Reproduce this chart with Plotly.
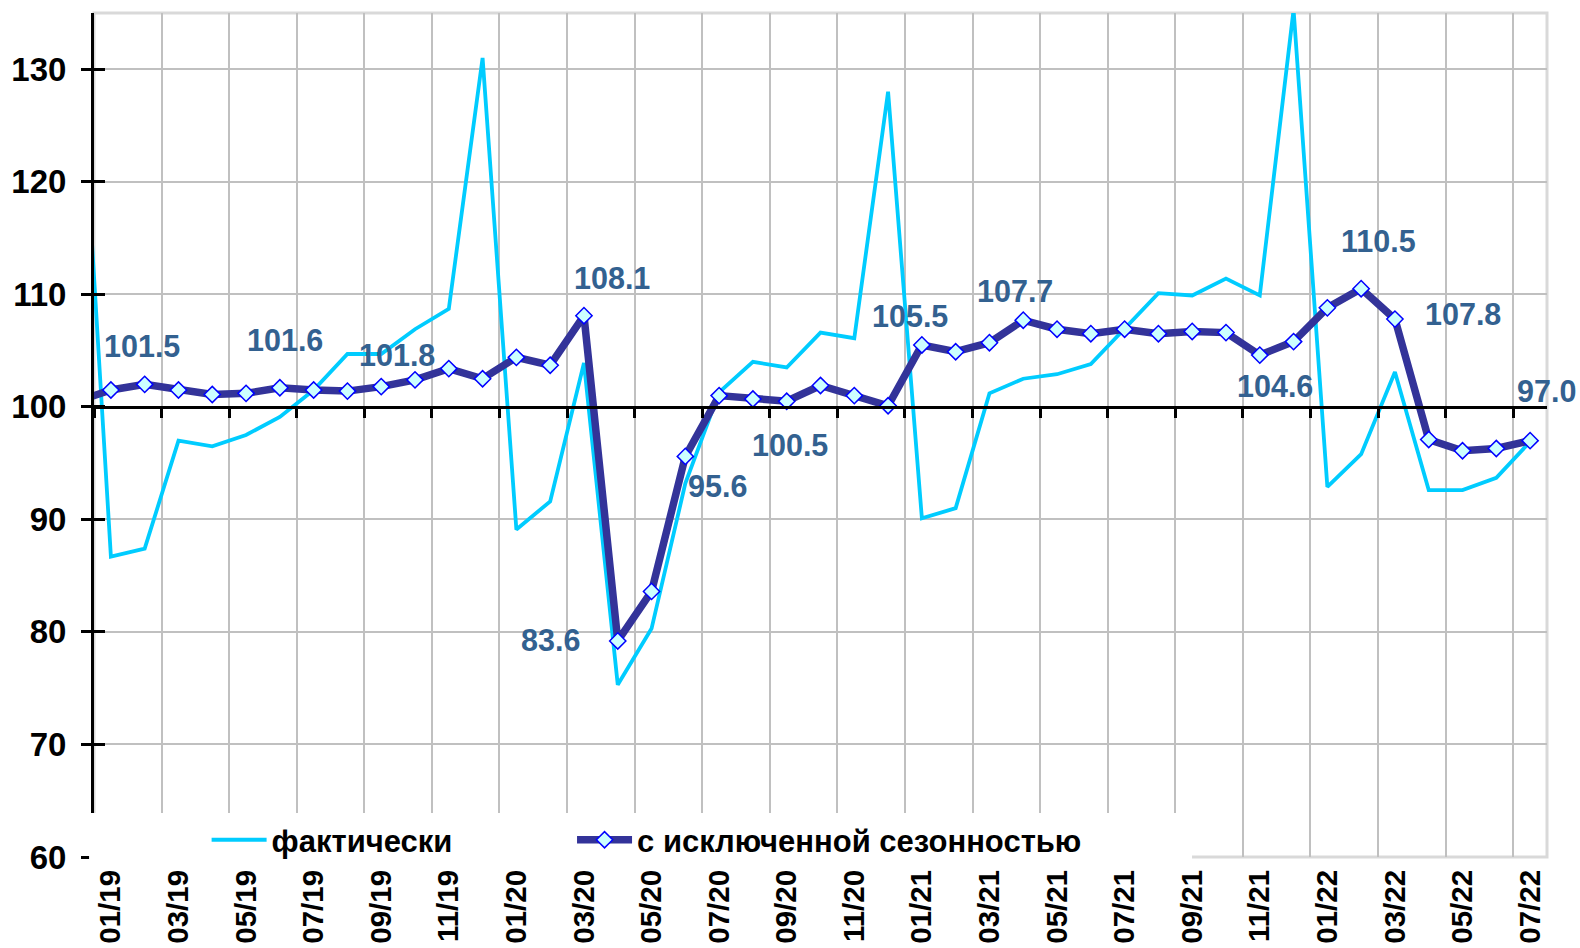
import plotly.graph_objects as go

# ---------------- DATA ----------------
months = ["12/18",
          "01/19", "02/19", "03/19", "04/19", "05/19", "06/19", "07/19", "08/19", "09/19", "10/19", "11/19", "12/19",
          "01/20", "02/20", "03/20", "04/20", "05/20", "06/20", "07/20", "08/20", "09/20", "10/20", "11/20", "12/20",
          "01/21", "02/21", "03/21", "04/21", "05/21", "06/21", "07/21", "08/21", "09/21", "10/21", "11/21", "12/21",
          "01/22", "02/22", "03/22", "04/22", "05/22", "06/22", "07/22"]

actual = [136.5,
          86.7, 87.4, 97.0, 96.5, 97.5, 99.1, 101.5, 104.7, 104.7, 106.9, 108.7, 131.0,
          89.1, 91.6, 103.9, 75.3, 80.3, 93.2, 101.3, 104.0, 103.5, 106.6, 106.1, 128.0,
          90.1, 91.0, 101.2, 102.5, 102.9, 103.8, 106.9, 110.1, 109.9, 111.4, 109.9, 135.3,
          92.9, 95.8, 103.1, 92.6, 92.6, 93.7, 96.9]

seas_adj = [100.5,
            101.5, 102.0, 101.5, 101.1, 101.2, 101.7, 101.5, 101.4, 101.8, 102.4, 103.4, 102.5,
            104.4, 103.7, 108.1, 79.2, 83.6, 95.6, 101.0, 100.7, 100.5, 101.9, 101.0, 100.1,
            105.5, 104.9, 105.7, 107.7, 106.9, 106.5, 106.9, 106.5, 106.7, 106.6, 104.6, 105.8,
            108.8, 110.5, 107.8, 97.1, 96.1, 96.3, 97.0]

label_months = ["01/19", "06/19", "09/19", "03/20", "05/20", "06/20", "09/20",
                "01/21", "04/21", "11/21", "02/22", "03/22", "07/22"]
label_texts = ["101.5", "101.6", "101.8", "108.1", "83.6", "95.6", "100.5",
               "105.5", "107.7", "104.6", "110.5", "107.8", "97.0"]

series_names = ["фактически", "с исключенной сезонностью"]
y_ticks = [60, 70, 80, 90, 100, 110, 120, 130]

# ---------------- STYLE ----------------
label_offsets = [(31, 44), (5, 48), (16, 32), (28, 38), (-101, -49), (32, -30), (3, -44),
                 (-12, 29), (-8, 29), (15, -31), (17, 48), (68, 5), (16, 50)]
FONT = "Liberation Sans, Arial, sans-serif"
LABEL_COLOR = "#336190"
GRID = "#C0C0C0"

x_pos = list(range(-1, len(months) - 1))  # 01/19 -> 0
pos_of = dict(zip(months, x_pos))
val_of = dict(zip(months, seas_adj))

tick_vals = [pos_of[m] for m in months[1::2]]
tick_text = months[1::2]
n_cat = len(months) - 1
boundaries = [k - 0.5 for k in range(0, n_cat + 1, 2)]

legend_font = dict(family=FONT, size=31, color="black", weight="bold")

fig = go.Figure()
fig.add_trace(go.Scatter(
    x=x_pos, y=actual, name=series_names[0], mode="lines",
    line=dict(color="#00CCFF", width=3.8), xaxis="x", yaxis="y", legend="legend"))
fig.add_trace(go.Scatter(
    x=x_pos, y=seas_adj, name=series_names[1], mode="lines+markers",
    line=dict(color="#333399", width=7.5),
    marker=dict(symbol="diamond", size=12.5, color="#CCFFFF",
                line=dict(color="#0000FF", width=1.5)),
    xaxis="x", yaxis="y", legend="legend2"))

annotations = []
for m, t, (dx, dy) in zip(label_months, label_texts, label_offsets):
    annotations.append(dict(
        x=pos_of[m], y=val_of[m], xref="x", yref="y", text=t, showarrow=False,
        xshift=dx, yshift=dy, xanchor="center", yanchor="middle",
        font=dict(family=FONT, size=30.5, color=LABEL_COLOR, weight="bold")))

y_range = [60, 135]
axis_pos = (100 - y_range[0]) / (y_range[1] - y_range[0])

fig.update_layout(
    width=1580, height=948,
    margin=dict(l=94, r=33, t=13, b=91, autoexpand=False),
    plot_bgcolor="white", paper_bgcolor="white",
    showlegend=True,
    legend=dict(orientation="h", x=0.0775, xanchor="left", y=0.02, yanchor="middle",
                bgcolor="rgba(0,0,0,0)", itemwidth=55, font=legend_font),
    legend2=dict(orientation="h", x=0.329, xanchor="left", y=0.02, yanchor="middle",
                 bgcolor="rgba(0,0,0,0)", itemwidth=55, font=legend_font),
    xaxis=dict(range=[-0.5, n_cat - 0.5], tickmode="array", tickvals=tick_vals,
               ticktext=tick_text, tickangle=-90, showgrid=False, zeroline=False,
               showline=False, ticks="", ticklabelstandoff=6, automargin=False,
               tickfont=dict(family=FONT, size=29.5, color="black", weight="bold")),
    xaxis2=dict(overlaying="x", anchor="free", position=axis_pos, automargin=False,
                range=[-0.5, n_cat - 0.5], tickmode="array", tickvals=boundaries,
                showticklabels=False, showgrid=True, gridcolor=GRID, gridwidth=2,
                showline=True, linecolor="black", linewidth=3,
                ticks="outside", ticklen=9, tickwidth=3, tickcolor="black", zeroline=False),
    yaxis=dict(range=y_range, tickmode="array", tickvals=y_ticks, showgrid=True,
               gridcolor=GRID, gridwidth=2, zeroline=False, showline=True,
               linecolor="black", linewidth=3, ticks="outside", ticklen=10, tickwidth=3,
               tickcolor="black", ticklabelstandoff=8, automargin=False,
               tickfont=dict(family=FONT, size=33, color="black", weight="bold")),
    yaxis2=dict(overlaying="y", anchor="x", side="left", range=y_range, tickmode="array",
                tickvals=y_ticks, showticklabels=False, showgrid=False, zeroline=False,
                automargin=False,
                showline=False, ticks="inside", ticklen=11, tickwidth=3, tickcolor="black"),
    annotations=annotations,
    shapes=[
        dict(type="rect", xref="paper", yref="paper", x0=0, x1=1, y0=0, y1=1,
             line=dict(color="#D9D9D9", width=3), fillcolor="rgba(0,0,0,0)", layer="below"),
        dict(type="rect", xref="paper", yref="paper", x0=-0.0034, x1=0.7557, y0=-0.016, y1=0.0521,
             line=dict(width=0), fillcolor="white", layer="above"),
    ],
)
# helper trace to activate the overlay axes (x2 / y2)
fig.add_trace(go.Scatter(x=[None], y=[None], xaxis="x2", yaxis="y2", showlegend=False,
                         hoverinfo="skip"))

# remove the browser's default 8px body margin so the figure fills the window exactly
fig.write_html("out.html", config={"displayModeBar": False},
               post_script="document.body.style.margin='0';document.body.style.overflow='hidden';")
